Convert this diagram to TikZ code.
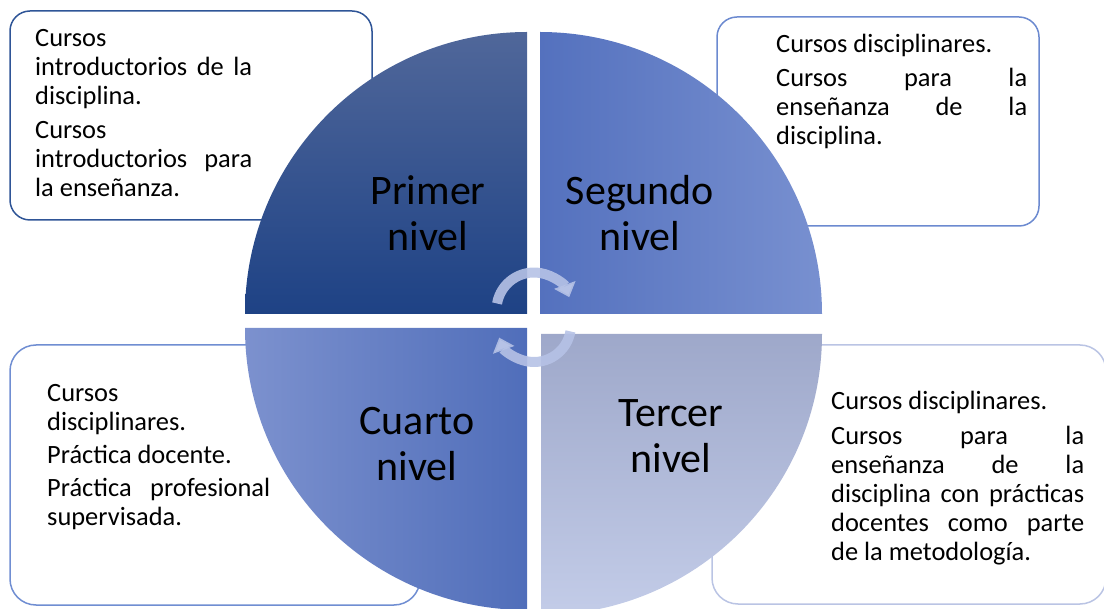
\documentclass[tikz,border=0pt]{standalone}
\usepackage{fontspec}
\setmainfont{Carlito}
\usetikzlibrary{arrows.meta}
\definecolor{tlTop}{RGB}{80,103,154}
\definecolor{tlMid}{RGB}{44,80,146}
\definecolor{tlBot}{RGB}{30,66,133}
\definecolor{trLeft}{RGB}{84,113,190}
\definecolor{trRight}{RGB}{120,144,208}
\definecolor{blLeft}{RGB}{124,145,206}
\definecolor{blRight}{RGB}{80,110,186}
\definecolor{brTop}{RGB}{158,168,202}
\definecolor{brBot}{RGB}{195,204,232}
\definecolor{lineA}{RGB}{47,85,151}
\definecolor{lineB}{RGB}{108,138,208}
\definecolor{lineC}{RGB}{112,142,210}
\definecolor{lineD}{RGB}{186,196,228}
\definecolor{turnc}{RGB}{182,194,230}
\begin{document}
\begin{tikzpicture}[x=1pt,y=-1pt,
      box/.style={draw, fill=white, line width=1.5pt},
      desc/.style={anchor=base west, inner sep=0pt, align=justify,
        font=\fontsize{26.4}{29}\selectfont},
      lvl/.style={anchor=base, inner sep=0pt, text width=200pt, align=center,
        font=\fontsize{42}{46}\selectfont},
      turn/.style={line width=10pt, draw=turnc, draw opacity=0.9,
        -{Triangle[width=22pt,length=13pt]}}]
  \useasboundingbox (0,0) rectangle (1104,609);
  % text boxes
  \draw[box, draw=lineA, rounded corners=20pt] (10,11) rectangle (372,220);
  \draw[box, draw=lineB, rounded corners=20pt] (717,17) rectangle (1039,226);
  \draw[box, draw=lineC, rounded corners=26pt] (10,345) rectangle (420,605);
  \draw[box, draw=lineD, rounded corners=26pt] (712,345) rectangle (1106,604);
  % quadrants
  \shade[top color=tlTop, middle color=tlMid, bottom color=tlBot] (527,314) -- (245,314) arc (180:270:282) -- cycle;
  \shade[left color=trLeft, right color=trRight] (540,314) -- (540,32) arc (270:360:282) -- cycle;
  \shade[left color=blLeft, right color=blRight] (527,328) -- (245,328) arc (180:90:282) -- cycle;
  \shade[top color=brTop, bottom color=brBot] (541,334) -- (822,334) arc (0:90:281) -- cycle;
  % cycle arrows
  \draw[turn] (534,310) ++(190:37.5) arc (190:340:37.5);
  \draw[turn] (534,325) ++(10:37) arc (10:160:37);
  % levels
  \node[lvl] (primer) at (428,205) {Primer\\nivel};
  \node[lvl] (segundo) at (640,205) {Segundo\\nivel};
  \node[lvl] (tercer) at (671,427) {Tercer\\nivel};
  \node[lvl] (cuarto) at (417,435) {Cuarto\\nivel};
  % descriptions
  \node[desc, text width=217pt] (txtPrimer) at (35,47)
    {Cursos\newline introductorios de la\linebreak disciplina.\par\vspace{4.5pt}
     Cursos\newline introductorios para\linebreak la enseñanza.};
  \node[desc, text width=251pt] (txtSegundo) at (776,53)
    {Cursos disciplinares.\par\vspace{4.5pt}
     Cursos para la\linebreak enseñanza de la\linebreak disciplina.};
  \node[desc, text width=253pt] (txtTercer) at (831,410)
    {Cursos disciplinares.\par\vspace{6pt}
     Cursos para la\linebreak enseñanza de la\linebreak disciplina con prácticas\linebreak
     docentes como parte\linebreak de la metodología.};
  \node[desc, text width=223pt] (txtCuarto) at (47,402)
    {Cursos\newline disciplinares.\par\vspace{4pt}
     Práctica docente.\par\vspace{4pt}
     Práctica profesional\linebreak supervisada.};
\end{tikzpicture}
\end{document}
